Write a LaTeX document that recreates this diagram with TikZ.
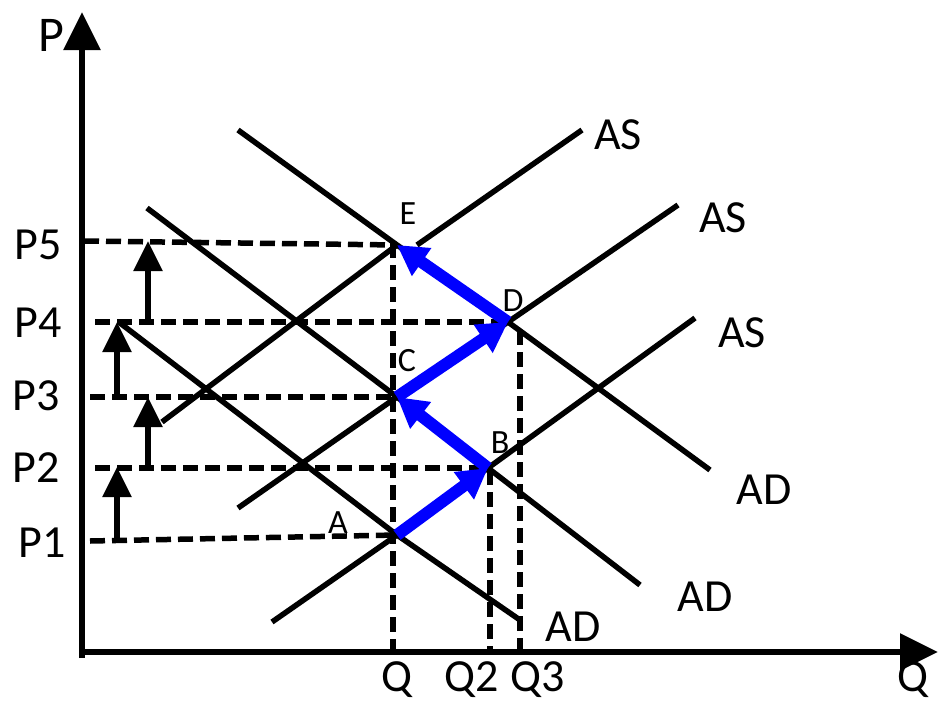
\documentclass[tikz,border=0pt]{standalone}
\usepackage{fontspec}
\setmainfont{Carlito}
\usetikzlibrary{arrows.meta}
\definecolor{moveblue}{RGB}{0,0,255}
\begin{document}
\begin{tikzpicture}[x=1pt,y=-1pt,
  curve/.style={line width=5.5pt},
  guide/.style={line width=5.5pt, dash pattern=on 15pt off 7pt},
  axisline/.style={line width=6pt, -{Triangle[width=36pt,length=38pt]}},
  rise/.style={line width=5.5pt, -{Triangle[width=28pt,length=30pt]}},
  move/.style={line width=12pt, draw=moveblue, -{Triangle[width=32pt,length=30pt]}},
  big/.style={font=\fontsize{46}{48}\selectfont, inner sep=0pt},
  small/.style={font=\fontsize{34}{36}\selectfont, inner sep=0pt}]
\useasboundingbox (0,0) rectangle (940,704);

% axes
\coordinate (O) at (82,652);
\coordinate (Ptop) at (82,12);
\coordinate (Qend) at (938,652);
\draw[axisline] (82,658) -- (Ptop);
\draw[axisline] (79,652) -- (Qend);
\node[big, font=\fontsize{50}{52}\selectfont] (Plab) at (51,35) {P};
\node[big] (Qlab) at (913,680) {Q};

% equilibrium points
\coordinate (A) at (397,535);
\coordinate (B) at (488,468);
\coordinate (C) at (397,397);
\coordinate (D) at (508,322);
\coordinate (E) at (397,245);

% axis points
\coordinate (y5) at (84,241);
\coordinate (y4) at (95,322);
\coordinate (y3) at (90,397);
\coordinate (y2) at (95,468);
\coordinate (y1) at (90,541);
\coordinate (x1) at (393,652);
\coordinate (x2) at (490,652);
\coordinate (x3) at (520,652);
\coordinate (x1top) at (393,243);
\coordinate (x2top) at (490,470);
\coordinate (x3top) at (520,330);

% guide lines
\draw[guide] (y5) -- (E);
\draw[guide] (y4) -- (D);
\draw[guide] (y3) -- (C);
\draw[guide] (y2) -- (B);
\draw[guide] (y1) -- (A);
\draw[guide] (x1top) -- (x1);
\draw[guide] (x2top) -- (x2);
\draw[guide] (x3top) -- (x3);

% price labels
\node[big] (P5) at (38,245) {P5};
\node[big] (P4) at (38,323) {P4};
\node[big] (P3) at (36,396) {P3};
\node[big] (P2) at (36,468) {P2};
\node[big] (P1) at (42,543) {P1};

% rising arrows
\coordinate (r1a) at (117,543); \coordinate (r1b) at (117,467);
\coordinate (r2a) at (148,470); \coordinate (r2b) at (148,397);
\coordinate (r3a) at (117,397); \coordinate (r3b) at (117,322);
\coordinate (r4a) at (148,324); \coordinate (r4b) at (148,241);
\draw[rise] (r1a) -- (r1b);
\draw[rise] (r2a) -- (r2b);
\draw[rise] (r3a) -- (r3b);
\draw[rise] (r4a) -- (r4b);

% AS curves
\coordinate (as1s) at (272,622); \coordinate (as1e) at (695,318);
\coordinate (as2s) at (238,508); \coordinate (as2e) at (678,205);
\coordinate (as3s) at (162,422); \coordinate (as3m) at (417,245); \coordinate (as3e) at (582,130);
\draw[curve] (as1s) -- (A) -- (B) -- (as1e);
\draw[curve] (as2s) -- (C) -- (D) -- (as2e);
\draw[curve] (as3s) -- (E);
\draw[curve] (as3m) -- (as3e);

% AD curves
\coordinate (ad1s) at (120,323); \coordinate (ad1e) at (520,620);
\coordinate (ad2s) at (147,208); \coordinate (ad2e) at (640,585);
\coordinate (ad3s) at (238,130); \coordinate (ad3e) at (710,470);
\draw[curve] (ad1s) -- (A) -- (ad1e);
\draw[curve] (ad2s) -- (C) -- (B) -- (ad2e);
\draw[curve] (ad3s) -- (E) -- (D) -- (ad3e);

% curve labels
\node[big] (AS3) at (618,135) {AS};
\node[big] (AS2) at (723,218) {AS};
\node[big] (AS1) at (742,333) {AS};
\node[big] (AD3) at (764,490) {AD};
\node[big] (AD2) at (705,597) {AD};
\node[big] (AD1) at (573,627) {AD};
\node[big] (Q1) at (397,680) {Q};
\node[big] (Q2) at (472,680) {Q2};
\node[big] (Q3) at (538,680) {Q3};

% point labels
\node[small] (Alab) at (338,523) {A};
\node[small] (Blab) at (500,443) {B};
\node[small] (Clab) at (407,361) {C};
\node[small] (Dlab) at (513,301) {D};
\node[small] (Elab) at (408,214) {E};

% blue path
\draw[move] (A) -- (B);
\draw[move] (B) -- (C);
\draw[move] (C) -- (D);
\draw[move] (D) -- (E);
\end{tikzpicture}
\end{document}
